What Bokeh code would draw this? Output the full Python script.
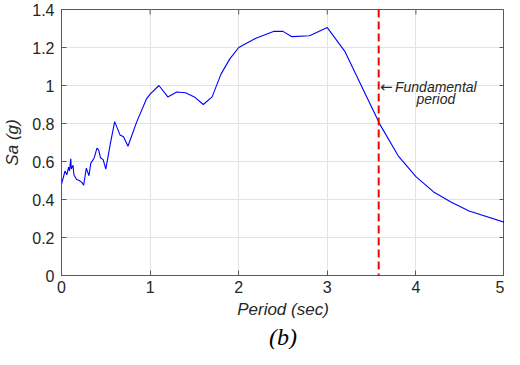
import math
from bokeh.plotting import figure
from bokeh.models import FixedTicker, Span, Label, Title
from bokeh.embed import file_html
from bokeh.resources import INLINE

# ---- data ----
period = [0.0, 0.04, 0.06, 0.08, 0.09, 0.105, 0.11, 0.13, 0.14, 0.17, 0.20, 0.23,
          0.25, 0.28, 0.31, 0.33, 0.37, 0.40, 0.42, 0.44, 0.47, 0.50, 0.55, 0.60,
          0.66, 0.70, 0.75, 0.85, 0.96, 1.00, 1.10, 1.20, 1.30, 1.40, 1.50, 1.60,
          1.70, 1.80, 1.90, 2.00, 2.20, 2.40, 2.50, 2.60, 2.80, 3.00, 3.20, 3.60,
          3.80, 4.00, 4.20, 4.40, 4.60, 5.00]
sa = [0.48, 0.55, 0.53, 0.57, 0.55, 0.615, 0.56, 0.58, 0.53, 0.505, 0.50, 0.49,
      0.475, 0.565, 0.525, 0.59, 0.62, 0.67, 0.66, 0.62, 0.61, 0.56, 0.69, 0.81,
      0.74, 0.73, 0.68, 0.81, 0.93, 0.955, 1.00, 0.94, 0.966, 0.962, 0.94, 0.90,
      0.94, 1.06, 1.14, 1.20, 1.25, 1.285, 1.285, 1.257, 1.262, 1.305, 1.178, 0.79,
      0.63, 0.52, 0.44, 0.386, 0.34, 0.28]
fundamental_period = 3.58

x_ticks = [0, 1, 2, 3, 4, 5]
x_tick_labels = ["0", "1", "2", "3", "4", "5"]
y_ticks = [0, 0.2, 0.4, 0.6, 0.8, 1, 1.2, 1.4]
y_tick_labels = ["0", "0.2", "0.4", "0.6", "0.8", "1", "1.2", "1.4"]

x_label = "Period (sec)"
y_label = "Sa (g)"
caption = "(b)"
note_arrow = "\u2190"
note_line1 = "Fundamental"
note_line2 = "period"

FONT = "Liberation Sans"
TXT = "#262626"
AX = "#5a5a5a"
X0, X1, Y0, Y1 = 0, 5, 0, 1.4

p = figure(width=504, height=349, x_range=(X0, X1), y_range=(Y0, Y1),
           output_backend="svg", toolbar_location=None,
           min_border_left=56, min_border_right=0, min_border_top=9,
           min_border_bottom=0, background_fill_color="white",
           border_fill_color="white")
p.outline_line_color = AX
p.outline_line_width = 1

xa = p.xaxis[0]
ya = p.yaxis[0]
xa.ticker = FixedTicker(ticks=x_ticks)
xa.major_label_overrides = dict(zip(x_ticks, x_tick_labels))
ya.ticker = FixedTicker(ticks=y_ticks)
ya.major_label_overrides = dict(zip(y_ticks, y_tick_labels))

for ax in [xa, ya]:
    ax.axis_line_color = AX
    ax.major_tick_line_color = AX
    ax.major_tick_in = 5
    ax.major_tick_out = 0
    ax.minor_tick_line_color = None
    ax.major_label_text_font = FONT
    ax.major_label_text_font_size = "16px"
    ax.major_label_text_color = TXT
    ax.axis_label_text_font = FONT
    ax.axis_label_text_font_style = "italic"
    ax.axis_label_text_font_size = "17px"
    ax.axis_label_text_color = TXT

xa.major_label_standoff = 5
ya.major_label_standoff = 7
xa.axis_label = x_label
ya.axis_label = y_label
xa.axis_label_standoff = 4
ya.axis_label_standoff = 7

p.xgrid.ticker = FixedTicker(ticks=x_ticks)
p.ygrid.ticker = FixedTicker(ticks=y_ticks)
p.grid.grid_line_color = "#e3e3e3"
p.grid.grid_line_width = 1

# inward ticks on the top and right edges of the box (half of each dash is clipped)
p.scatter(x_ticks, [Y1] * len(x_ticks), marker="dash", size=10, angle=math.pi / 2,
          line_color=AX, line_width=1)
p.scatter([X1] * len(y_ticks), y_ticks, marker="dash", size=10, angle=0,
          line_color=AX, line_width=1)

p.line(period, sa, line_color="#0000ff", line_width=1.1)

p.add_layout(Span(location=fundamental_period, dimension="height",
                  line_color="#ff0000", line_width=2, line_dash="8 4"))

p.add_layout(Label(x=fundamental_period + 0.015, y=0.99, text=note_arrow,
                   text_font="DejaVu Sans", text_font_size="15px", text_color=TXT,
                   text_align="left", text_baseline="middle"))
p.add_layout(Label(x=4.225, y=0.99, text=note_line1,
                   text_font=FONT, text_font_style="italic",
                   text_font_size="14px", text_color=TXT,
                   text_align="center", text_baseline="middle"))
p.add_layout(Label(x=4.225, y=0.93, text=note_line2,
                   text_font=FONT, text_font_style="italic",
                   text_font_size="14px", text_color=TXT,
                   text_align="center", text_baseline="middle"))

# figure caption below the axis label
p.add_layout(Title(text=caption, align="center", text_font="Liberation Serif",
                   text_font_style="italic", text_font_size="24px",
                   text_color="black", offset=0, standoff=0), "below")

open("out.html", "w").write(file_html(p, INLINE))
